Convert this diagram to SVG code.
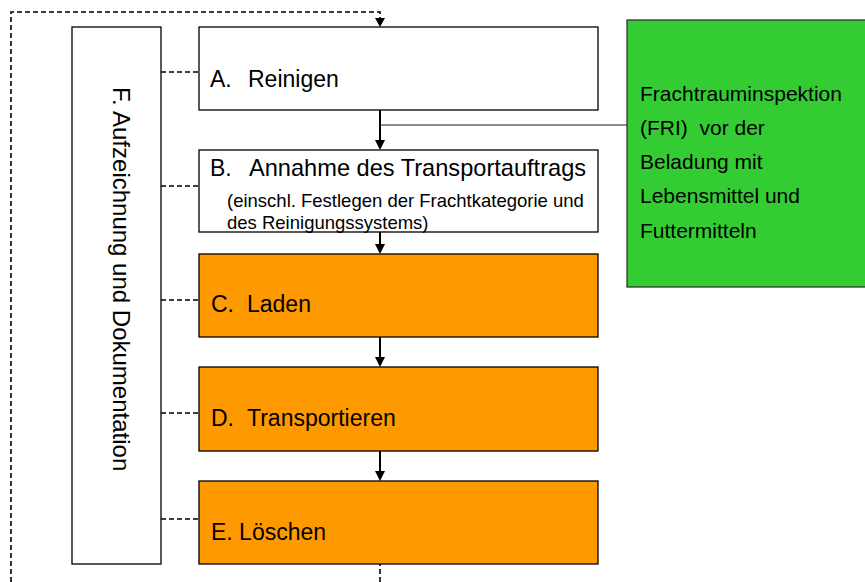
<svg xmlns="http://www.w3.org/2000/svg" width="865" height="582" viewBox="0 0 865 582">
<defs>
<style>
.box{stroke:#000;stroke-width:1.3}
.white{fill:#fff}
.orange{fill:#FF9900}
.green{fill:#33CC33;stroke:#333}
.t{font-family:"Liberation Sans",Arial,sans-serif;fill:#000}
.big{font-size:23px}
.small{font-size:18.5px}
.gt{font-size:21px}
.ft{font-size:24px}
.dash{stroke:#000;stroke-width:1.6;stroke-dasharray:5 3;fill:none}
.solid{stroke:#000;stroke-width:2;fill:none}
.gray{stroke:#666;stroke-width:1.5;fill:none}
.head{fill:#000}
</style>
</defs>
<rect width="865" height="582" fill="#fff"/>

<g id="connectors">
<path class="dash" d="M380,582 L380,564"/>
<path class="dash" d="M11,582 L11,12 L380,12 L380,18"/>
<path class="head" d="M375,18 L385,18 L380,27 Z"/>
<path class="dash" d="M161,72 L199,72"/>
<path class="dash" d="M161,186 L199,186"/>
<path class="dash" d="M161,300 L199,300"/>
<path class="dash" d="M161,413 L199,413"/>
<path class="dash" d="M161,519 L199,519"/>
<path class="gray" d="M380,125 L627,125"/>
<path class="solid" d="M380,110 L380,141"/>
<path class="head" d="M375,140 L385,140 L380,150 Z"/>
<path class="solid" d="M380,232 L380,245"/>
<path class="head" d="M375,244 L385,244 L380,254 Z"/>
<path class="solid" d="M380,337 L380,358"/>
<path class="head" d="M375,357 L385,357 L380,367 Z"/>
<path class="solid" d="M380,451 L380,472"/>
<path class="head" d="M375,471 L385,471 L380,481 Z"/>
</g>

<g id="nodeF">
<rect class="box white" x="72" y="27" width="89" height="537"/>
<text class="t ft" transform="translate(113,87) rotate(90)">F. Aufzeichnung und Dokumentation</text>
</g>

<g id="nodeA">
<rect class="box white" x="199" y="27" width="399" height="83"/>
<text class="t big" x="210" y="87">A.</text>
<text class="t big" x="248" y="87">Reinigen</text>
</g>

<g id="nodeB">
<rect class="box white" x="199" y="150" width="399" height="82"/>
<text class="t big" x="210" y="176">B.</text>
<text class="t big" x="249" y="176" style="font-size:23.6px">Annahme des Transportauftrags</text>
<text class="t small" x="227" y="207">(einschl. Festlegen der Frachtkategorie und</text>
<text class="t small" x="227" y="229">des Reinigungssystems)</text>
</g>

<g id="nodeC">
<rect class="box orange" x="199" y="254" width="399" height="83"/>
<text class="t big" x="211" y="312">C.</text>
<text class="t big" x="247" y="312">Laden</text>
</g>

<g id="nodeD">
<rect class="box orange" x="199" y="367" width="399" height="84"/>
<text class="t big" x="211" y="426">D.</text>
<text class="t big" x="247" y="426">Transportieren</text>
</g>

<g id="nodeE">
<rect class="box orange" x="199" y="481" width="399" height="83"/>
<text class="t big" x="211" y="540">E. Löschen</text>
</g>

<g id="nodeFRI">
<rect class="green" stroke-width="1.3" x="627" y="20" width="245" height="267"/>
<text class="t gt" x="640" y="101">Frachtrauminspektion</text>
<text class="t gt" x="640" y="135" xml:space="preserve">(FRI)  vor der</text>
<text class="t gt" x="640" y="169">Beladung mit</text>
<text class="t gt" x="640" y="203">Lebensmittel und</text>
<text class="t gt" x="640" y="238">Futtermitteln</text>
</g>
</svg>
